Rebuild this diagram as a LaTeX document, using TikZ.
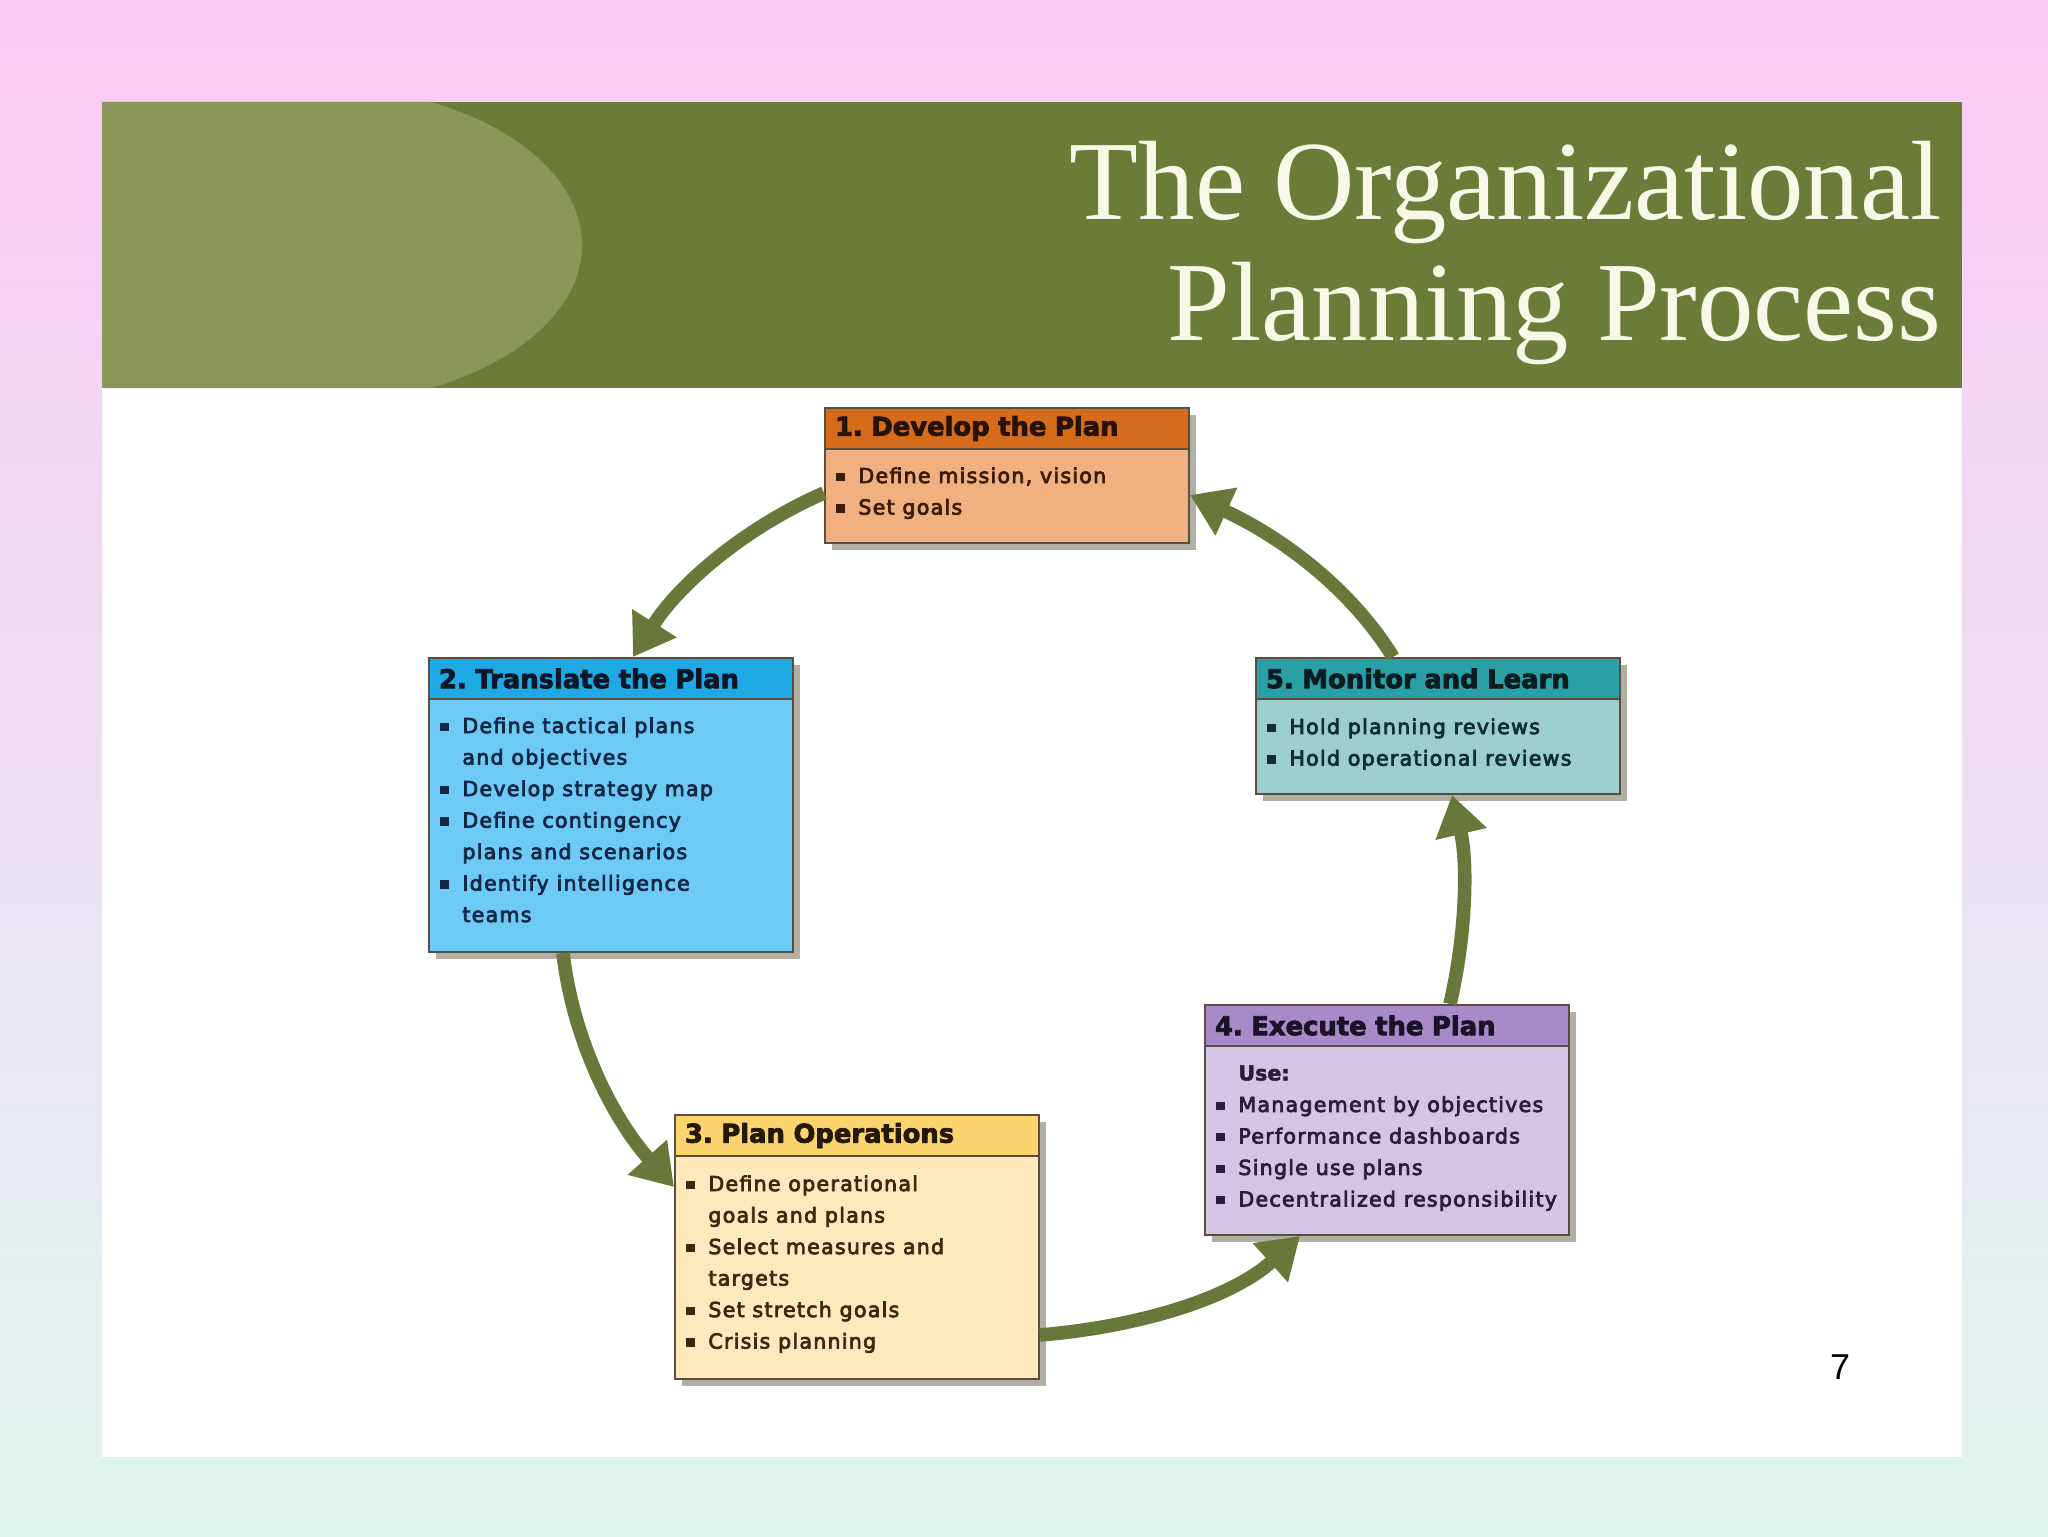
\documentclass[tikz,border=0pt]{standalone}
\usepackage{fontspec}
\setmainfont{Liberation Serif}
\newfontfamily\bodyfont[FakeBold=3.5,LetterSpace=6]{DejaVu Sans}
\newfontfamily\boldbody[FakeBold=2]{DejaVu Sans Bold}
\newfontfamily\hdrfont[FakeBold=3]{DejaVu Sans Bold}
\newfontfamily\numfont{Liberation Sans}
\usetikzlibrary{arrows.meta,shadows}
\frenchspacing
\definecolor{pinktop}{RGB}{252,200,245}
\definecolor{mintbot}{RGB}{222,245,238}
\definecolor{hdrgreen}{RGB}{107,124,57}
\definecolor{ovalgreen}{RGB}{138,151,88}
\definecolor{titlec}{RGB}{248,248,232}
\definecolor{arrowc}{RGB}{104,120,58}
\definecolor{shadowc}{RGB}{178,174,164}
\definecolor{borderc}{RGB}{90,78,62}
\definecolor{cAh}{RGB}{212,108,28}\definecolor{cAf}{RGB}{240,176,128}\definecolor{cAt}{RGB}{58,28,8}\definecolor{cAk}{RGB}{38,18,6}
\definecolor{cBh}{RGB}{30,168,228}\definecolor{cBf}{RGB}{108,202,245}\definecolor{cBt}{RGB}{18,38,70}\definecolor{cBk}{RGB}{12,22,38}
\definecolor{cCh}{RGB}{252,212,110}\definecolor{cCf}{RGB}{255,232,188}\definecolor{cCt}{RGB}{60,40,14}\definecolor{cCk}{RGB}{36,24,8}
\definecolor{cDh}{RGB}{168,138,200}\definecolor{cDf}{RGB}{212,196,230}\definecolor{cDt}{RGB}{40,30,62}\definecolor{cDk}{RGB}{26,18,38}
\definecolor{cEh}{RGB}{40,160,165}\definecolor{cEf}{RGB}{156,206,206}\definecolor{cEt}{RGB}{15,45,50}\definecolor{cEk}{RGB}{10,28,32}
\newcommand\bul{\makebox[11pt][l]{\rule[1pt]{4.2pt}{4.2pt}}}
\newcommand\ind{\hspace*{11pt}}
\begin{document}
\begin{tikzpicture}[x=0.5pt,y=-0.5pt,
  boxbase/.style={draw=borderc, line width=1pt, anchor=north west, minimum width=182pt, inner sep=0pt,
     general shadow={fill=shadowc, shadow xshift=3.5pt, shadow yshift=-3.5pt}},
  hdrbox/.style={draw=borderc, line width=1pt, anchor=north west, minimum width=182pt, text width=172pt,
     inner xsep=5pt, inner ysep=0pt, minimum height=20.5pt, align=left,
     font={\hdrfont\fontsize{12.9pt}{14pt}\selectfont}},
  bodytxt/.style={anchor=north west, inner sep=0pt, align=left,
     font={\bodyfont\fontsize{10.3pt}{15.75pt}\selectfont}},
  flow/.style={draw=arrowc, line width=6.8pt, -{Triangle[length=20pt,width=25pt]}},
  titletxt/.style={anchor=base east, inner sep=0pt, text=titlec, font={\fontsize{56.4pt}{60pt}\selectfont}}
]
\useasboundingbox (0,0) rectangle (2048,1536);
\shade[top color=pinktop, bottom color=mintbot] (0,0) rectangle (2048,1536);
\fill[white] (102,102) rectangle (1962,1457);
\fill[hdrgreen] (102,102) rectangle (1962,388);
\fill[ovalgreen] (102,102) -- (431,102) .. controls (523,129) and (582,184) .. (582,245)
   .. controls (582,306) and (523,361) .. (431,388) -- (102,388) -- cycle;
\node[titletxt] (title1) at (1942,219) {The Organizational};
\node[titletxt] (title2) at (1942,340) {Planning Process};
\node[font={\numfont\fontsize{18pt}{20pt}\selectfont}, inner sep=0pt] (pg) at (1840,1367) {7};

% Box 1
\node[boxbase, fill=cAf, minimum height=67.5pt] (b1) at (824,407) {};
\node[hdrbox, fill=cAh, text=cAk] (h1) at (b1.north west) {1. Develop the Plan};
\node[bodytxt, text=cAt] (t1) at (836,467) {\bul Define mission, vision\\ \bul Set goals};
% Box 2
\node[boxbase, fill=cBf, minimum height=147pt] (b2) at (428,657) {};
\node[hdrbox, fill=cBh, text=cBk] (h2) at (b2.north west) {2. Translate the Plan};
\node[bodytxt, text=cBt] (t2) at (440,717) {\bul Define tactical plans\\ \ind and objectives\\ \bul Develop strategy map\\ \bul Define contingency\\ \ind plans and scenarios\\ \bul Identify intelligence\\ \ind teams};
% Box 3
\node[boxbase, fill=cCf, minimum height=132pt] (b3) at (674,1114) {};
\node[hdrbox, fill=cCh, text=cCk] (h3) at (b3.north west) {3. Plan Operations};
\node[bodytxt, text=cCt] (t3) at (686,1175) {\bul Define operational\\ \ind goals and plans\\ \bul Select measures and\\ \ind targets\\ \bul Set stretch goals\\ \bul Crisis planning};
% Box 4
\node[boxbase, fill=cDf, minimum height=115pt] (b4) at (1204,1004) {};
\node[hdrbox, fill=cDh, text=cDk] (h4) at (b4.north west) {4. Execute the Plan};
\node[bodytxt, text=cDt] (t4) at (1216,1065) {\ind{\boldbody Use:}\\ \bul Management by objectives\\ \bul Performance dashboards\\ \bul Single use plans\\ \bul Decentralized responsibility};
% Box 5
\node[boxbase, fill=cEf, minimum height=68pt] (b5) at (1255,657) {};
\node[hdrbox, fill=cEh, text=cEk] (h5) at (b5.north west) {5. Monitor and Learn};
\node[bodytxt, text=cEt] (t5) at (1267,718) {\bul Hold planning reviews\\ \bul Hold operational reviews};

% Arrows
\draw[flow] (b1.west |- 0,493) .. controls (746,527) and (680,583) .. (b2.north -| 633,0);
\draw[flow] (b2.south -| 563,0) .. controls (573,1041) and (614,1120) .. (b3.west |- 0,1187);
\draw[flow] (b3.east |- 0,1335) .. controls (1135,1327) and (1229,1300) .. (b4.south -| 1300,0);
\draw[flow] (b4.north -| 1450,0) .. controls (1466,935) and (1468,863) .. (b5.south -| 1452,0);
\draw[flow] (b5.north -| 1393,0) .. controls (1346,581) and (1271,532) .. (b1.east |- 0,495);
\end{tikzpicture}
\end{document}
